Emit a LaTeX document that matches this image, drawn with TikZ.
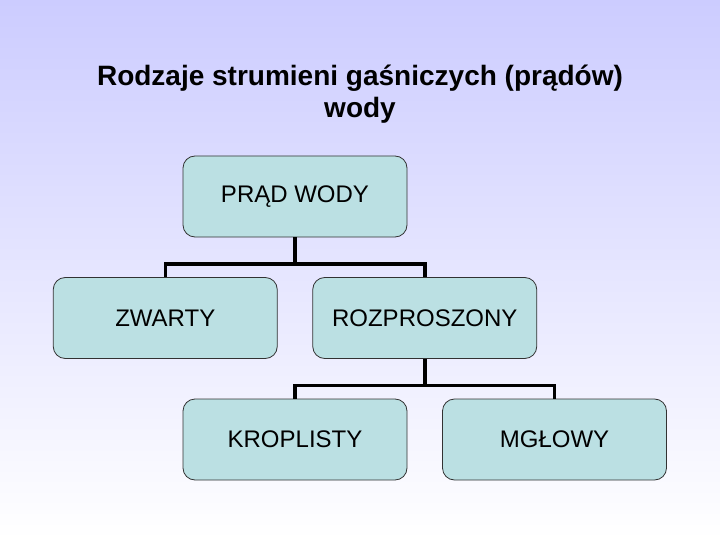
\documentclass[tikz,border=0pt]{standalone}
\usepackage{fontspec}
\setmainfont{Liberation Sans}
\usepackage{xcolor}
\usetikzlibrary{positioning}
\definecolor{boxfill}{RGB}{187,224,227}
\definecolor{boxline}{RGB}{50,50,50}
\definecolor{bgtop}{RGB}{204,204,255}

\begin{document}
\begin{tikzpicture}[
    kind/.style={rectangle, rounded corners=12pt, draw=boxline, line width=0.8pt, fill=boxfill,
        minimum width=224pt, minimum height=81pt, font=\fontsize{24}{27}\selectfont},
    level distance=121.5pt,
    sibling distance=259.5pt,
    edge from parent/.style={draw, line width=3.5pt},
    edge from parent path={(\tikzparentnode.south) -- ++(0,-26.5pt) -| (\tikzchildnode.north)}]

    \shade[top color=bgtop, bottom color=white] (0,0) rectangle (720pt,-540pt);

    \node[font=\fontsize{28}{32}\selectfont\bfseries, align=center] (title) at (360pt,-94pt)
        {Rodzaje strumieni gaśniczych (prądów)\\wody};

    \node[kind] (prad) at (295pt,-196.5pt) {PRĄD WODY}
        child {node[kind] (zwarty) {ZWARTY}}
        child {node[kind] (rozproszony) {ROZPROSZONY}
            child {node[kind] (kroplisty) {KROPLISTY}}
            child {node[kind] (mglowy) {MGŁOWY}}
        };
\end{tikzpicture}
\end{document}
